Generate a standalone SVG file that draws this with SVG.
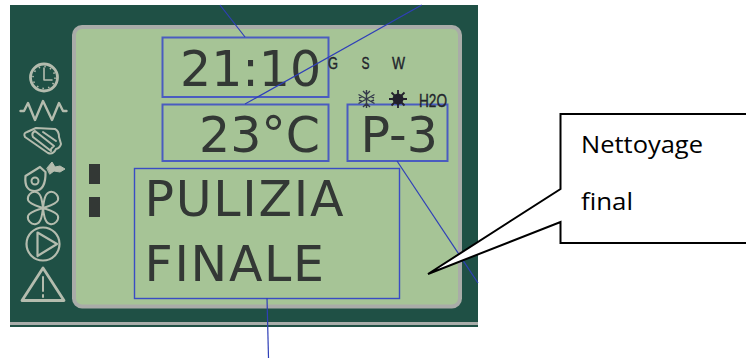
<svg xmlns="http://www.w3.org/2000/svg" width="746" height="358" viewBox="0 0 746 358">
<style>
.lcd{font-family:"DejaVu Sans",sans-serif;fill:#333835;font-size:49px}
.wide{letter-spacing:1.700px}
.mini{font-family:"Liberation Sans",sans-serif;fill:#22242c;stroke:#22242c;stroke-width:.4}
.box{fill:none;stroke:#4a5cc0;stroke-width:2}
.thin{fill:none;stroke:#3a4cc4;stroke-width:1.4}
.lead{fill:none;stroke:#2f3fb8;stroke-width:1.2}
.ic{fill:none;stroke:#b4bcae;stroke-width:2;stroke-linejoin:round;stroke-linecap:round}
.call{font-family:"Open Sans",sans-serif;font-size:24px;fill:#000}
</style>
<rect width="746" height="358" fill="#fff"/>
<g id="panel">
<rect x="10" y="5" width="468" height="322" fill="#1f5045"/>
<rect x="10" y="322" width="468" height="3" fill="#a9adaa"/>
<rect x="74" y="27" width="386" height="279.500" rx="8" fill="#a6c496" stroke="#a9aca8" stroke-width="4"/>
</g>
<g id="icons" class="ic">
<circle cx="44" cy="77.500" r="13.500" stroke-width="2.800"/><circle cx="44" cy="77.500" r="11" stroke-width="1.600" stroke-linecap="butt" stroke-dasharray="1.500 4.260"/><path d="M44 68V80H52" stroke-width="1.600"/>
<path d="M20.500 111H24L28 103L35 120L43 101L52 120L59 103L63 111H66.500" stroke-width="2.400"/>
<path d="M25 137Q23 133 27 132L36 128L55 129Q59 131 59 137L61 144Q60 148 56 149Q53 155 48 153ZM35 131Q31 133 33 137L51 151M35 131L54 146Q50 149 51 151M43 132L56 141"/>
<path d="M25.500 176L40 167L45.500 172Q46 190 35 191Q24 191 25.500 176Z" stroke-width="2.200"/><circle cx="35" cy="181" r="3.500"/>
<path d="M47 168L52 162L55 167L60 166L65 169L60 172L54 171L50 174Z" fill="#b4bcae" stroke-width="1"/>
<path d="M43 208C44 200 45 193 50 192C55 191 59 196 58 200C57 204 49 206 43 208ZM43 208C42 200 41 193 36 192C31 191 27 196 28 200C29 204 37 206 43 208ZM43 208C44 216 45 223 50 224C55 225 59 220 58 216C57 212 49 210 43 208ZM43 208C42 216 41 223 36 224C31 225 27 220 28 216C29 212 37 210 43 208Z"/>
<circle cx="43" cy="244" r="16.500" stroke-width="2.200"/><path d="M37.500 232.500L57 244L37.500 256Z" stroke-width="2.200"/>
<path d="M43 268L22 300.500H64Z" stroke-width="2.800"/><path d="M43 277V291M43 295V297" stroke-width="2"/>
</g>
<g id="bars" fill="#333835"><rect x="89" y="164" width="11" height="20"/><rect x="89" y="197" width="11" height="20"/></g>
<g id="time"><text class="lcd" x="180" y="86">21:10</text><rect class="box" x="162.500" y="37.500" width="166" height="59.500"/></g>
<g id="temp"><text class="lcd" x="199" y="152">23°C</text><rect class="box" x="162.500" y="104.500" width="166" height="56.500"/></g>
<g id="prog"><text class="lcd" x="360.500" y="152">P-3</text><rect class="box" x="347.500" y="104.500" width="100" height="56.500"/></g>
<g id="status"><text class="lcd wide" x="144.500" y="216">PULIZIA</text><text class="lcd wide" x="144.500" y="281">FINALE</text><rect class="thin" x="134.500" y="168.500" width="265" height="130"/></g>
<g id="indicators">
<text class="mini" x="328" y="68.500" font-size="17" textLength="10" lengthAdjust="spacingAndGlyphs">G</text>
<text class="mini" x="361.500" y="68.500" font-size="17" textLength="8" lengthAdjust="spacingAndGlyphs">S</text>
<text class="mini" x="392" y="68.500" font-size="17" textLength="13" lengthAdjust="spacingAndGlyphs">W</text>
<path d="M366.500 90V108M358.500 94.500L374.500 103.500M358.500 103.500L374.500 94.500M363 91L366.500 94.500L370 91M363 107L366.500 103.500L370 107M359 98L362 96.500M359 100L362 101.500M374 98L371 96.500M374 100L371 101.500" fill="none" stroke="#33384a" stroke-width="1.400"/>
<circle cx="398" cy="99" r="5.500" fill="#22202c"/>
<path d="M398 90V108M389 99H407M391.500 92.500L404.500 105.500M391.500 105.500L404.500 92.500" stroke="#22202c" stroke-width="1.800"/>
<text class="mini" x="419" y="107" font-size="19" textLength="28" lengthAdjust="spacingAndGlyphs">H2O</text>
</g>
<g id="connectors" class="lead">
<path d="M220 5L245 37"/>
<path d="M421.700 5L245 104"/>
<path d="M397 161L478 283"/>
<path d="M267 298L268.500 358"/>
</g>
<g id="callout">
<path d="M747 114H560.500V189L428 274L560.500 222V243H747" fill="#fff" stroke="#000" stroke-width="2"/>
<text class="call" x="581" y="153" textLength="122" lengthAdjust="spacingAndGlyphs">Nettoyage</text>
<text class="call" x="581" y="210" textLength="52" lengthAdjust="spacingAndGlyphs">final</text>
</g>
</svg>
